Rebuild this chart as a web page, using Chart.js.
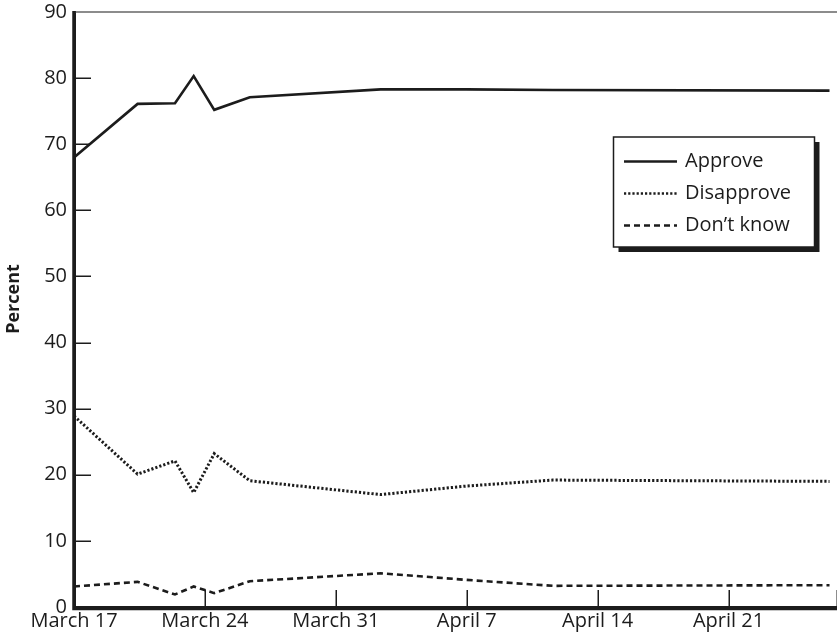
<!DOCTYPE html>
<html>
<head>
<meta charset="utf-8">
<script src="https://cdn.jsdelivr.net/npm/chart.js@4/dist/chart.umd.min.js"></script>
<style>
  html, body { margin: 0; padding: 0; background: #fff; }
  #wrap { width: 837px; height: 633px; position: relative; }
</style>
</head>
<body>
<div id="wrap"><canvas id="c" width="837" height="633"></canvas></div>
<script>
// ---- data (x = days after March 17) ----
const days       = [0, 3.4, 5.4, 6.4, 7.5, 9.4, 16.4, 21, 25.6, 40.4];
const approve    = [68, 76.1, 76.2, 80.3, 75.2, 77.1, 78.3, 78.3, 78.2, 78.1];
const disapprove = [28.9, 20.1, 22.1, 17.3, 23.2, 19.1, 17.0, 18.3, 19.2, 19.0];
const dontKnow   = [3.1, 3.8, 1.9, 3.1, 2.1, 3.9, 5.1, 4.1, 3.2, 3.3];
const xTickLabels = ["March 17", "March 24", "March 31", "April 7", "April 14", "April 21"];
const seriesNames = ["Approve", "Disapprove", "Don\u2019t know"];
const yTitle = "Percent";

const INK = '#1c1c1c';
const FONT = '"Open Sans", "Noto Sans", sans-serif';
const dashes = [[], [2.2, 2], [6, 4]];
const widths = [2.6, 3, 2.6];

function pts(vals) { return days.map((d, i) => ({ x: d, y: vals[i] })); }

const decor = {
  id: 'decor',
  afterDraw(chart) {
    const ctx = chart.ctx, ca = chart.chartArea;
    const xs = chart.scales.x, ys = chart.scales.y;
    ctx.save();
    // top border
    ctx.strokeStyle = '#666'; ctx.lineWidth = 1.5;
    ctx.beginPath(); ctx.moveTo(ca.left, ca.top); ctx.lineTo(837, ca.top); ctx.stroke();
    // axes
    ctx.strokeStyle = INK; ctx.lineWidth = 3.5;
    ctx.beginPath(); ctx.moveTo(ca.left, ca.top - 1); ctx.lineTo(ca.left, ca.bottom + 1.5);
    ctx.lineTo(837, ca.bottom + 1.5); ctx.stroke();
    // y ticks (inside)
    ctx.lineWidth = 1.5;
    ys.ticks.forEach(t => {
      if (t.value === 0 || t.value === 90) return;
      const y = Math.round(ys.getPixelForValue(t.value)) + 0.25;
      ctx.beginPath(); ctx.moveTo(ca.left, y); ctx.lineTo(ca.left + 17, y); ctx.stroke();
    });
    // x ticks (inside, upward)
    xs.ticks.forEach(t => {
      if (t.value === 0) return;
      const x = Math.round(xs.getPixelForValue(t.value)) + 0.25;
      ctx.beginPath(); ctx.moveTo(x, ca.bottom); ctx.lineTo(x, ca.bottom - 17); ctx.stroke();
    });
    // y title
    ctx.fillStyle = INK;
    ctx.font = 'bold 18px ' + FONT;
    ctx.translate(13.5, 299);
    ctx.rotate(-Math.PI / 2);
    ctx.textAlign = 'center'; ctx.textBaseline = 'middle';
    ctx.fillText(yTitle, 0, 0);
    ctx.restore();

    // legend box
    ctx.save();
    const bx = 613.5, by = 137, bw = 201, bh = 110;
    ctx.fillStyle = INK;
    ctx.fillRect(bx + 5, by + 5, bw, bh);
    ctx.fillStyle = '#fff';
    ctx.fillRect(bx, by, bw, bh);
    ctx.strokeStyle = INK; ctx.lineWidth = 1.5;
    ctx.strokeRect(bx, by, bw, bh);
    const rows = [161, 193, 225];
    ctx.font = '20px ' + FONT;
    ctx.textBaseline = 'middle'; ctx.textAlign = 'left';
    chart.data.datasets.forEach((ds, i) => {
      const y = rows[i] + 0.5;
      ctx.strokeStyle = INK; ctx.lineWidth = 2.5;
      ctx.setLineDash(ds.borderDash || []);
      ctx.beginPath(); ctx.moveTo(624, y); ctx.lineTo(677, y); ctx.stroke();
      ctx.setLineDash([]);
      ctx.fillStyle = INK;
      ctx.fillText(ds.label, 685, rows[i]);
    });
    ctx.restore();
  }
};

new Chart(document.getElementById('c'), {
  type: 'line',
  data: {
    datasets: [approve, disapprove, dontKnow].map((v, i) => ({
      label: seriesNames[i],
      data: pts(v),
      borderColor: INK,
      borderWidth: widths[i],
      borderDash: dashes[i],
      pointRadius: 0,
      tension: 0,
      fill: false
    }))
  },
  options: {
    responsive: false,
    animation: false,
    devicePixelRatio: 1,
    layout: { padding: { top: 12, right: 0, left: 0, bottom: 0 } },
    plugins: { legend: { display: false }, tooltip: { enabled: false } },
    scales: {
      x: {
        type: 'linear', min: 0, max: 40.8,
        grid: { display: true, drawOnChartArea: false, drawTicks: false },
        border: { display: true, width: 3, color: INK },
        ticks: {
          stepSize: 7, padding: 2, color: INK, maxRotation: 0,
          font: { family: FONT, size: 20 },
          callback: v => xTickLabels[v / 7] ?? ''
        },
        afterFit: s => { s.height = 26; s.paddingLeft = 0; s.paddingRight = 0; }
      },
      y: {
        min: 0, max: 90,
        grid: { display: true, drawOnChartArea: false, drawTicks: false },
        border: { display: true, width: 3, color: INK },
        ticks: { stepSize: 10, padding: 7, color: INK, font: { family: FONT, size: 20 } },
        afterFit: s => { s.width = 74; s.paddingTop = 0; s.paddingBottom = 0; }
      }
    }
  },
  plugins: [decor]
});
</script>
</body>
</html>
